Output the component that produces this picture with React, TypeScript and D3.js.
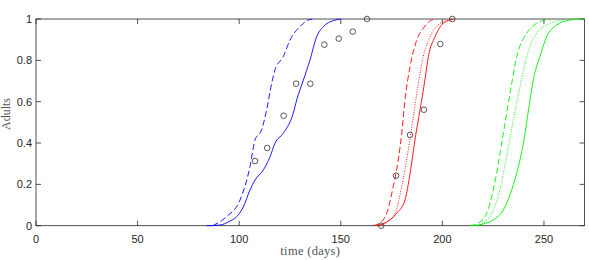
import React from "react";
import * as d3 from "d3";

const xTicks = [0, 50, 100, 150, 200, 250];
const yTicks = [0, 0.2, 0.4, 0.6, 0.8, 1];
const yTickLabels = ["0", "0.2", "0.4", "0.6", "0.8", "1"];

const obsDays = [107.8, 113.8, 121.9, 128, 135, 141.9, 149, 155.9, 162.9, 169.9, 177.2, 184.1, 190.9, 199, 204.9];
const obsAdults = [0.313, 0.376, 0.532, 0.687, 0.687, 0.876, 0.905, 0.939, 1.0, 0, 0.242, 0.439, 0.561, 0.879, 1.0];

const blueSolidX = [84, 90.5, 95, 98.8, 102, 105.3, 107.8, 111.9, 115.2, 117.6, 121.7, 126.6, 128.3, 131.6, 134.8, 138.1, 141.4, 146.3, 150];
const blueSolidY = [0, 0.003, 0.02, 0.044, 0.09, 0.173, 0.221, 0.27, 0.334, 0.399, 0.447, 0.544, 0.608, 0.705, 0.8, 0.914, 0.963, 0.992, 1];
const blueDashX = [87, 93.8, 100.4, 105.3, 107.8, 111, 113.5, 116, 117.6, 121.7, 125, 129.9, 133, 136];
const blueDashY = [0, 0.044, 0.124, 0.285, 0.415, 0.463, 0.56, 0.689, 0.753, 0.818, 0.898, 0.963, 0.99, 1];

const redSolidX = [167.6, 172, 177.5, 181.6, 184.1, 186.5, 189, 191.4, 193.1, 196.4, 200.4, 205.4];
const redSolidY = [0, 0.015, 0.06, 0.124, 0.253, 0.415, 0.56, 0.705, 0.818, 0.914, 0.979, 0.999];
const redDashX = [166, 169.5, 172.6, 175.8, 178.3, 180, 181.6, 184.1, 187.4, 190.6, 194.7, 197];
const redDashY = [0, 0.015, 0.06, 0.189, 0.318, 0.447, 0.608, 0.77, 0.898, 0.955, 0.995, 1];
const redDotX = [168, 172.5, 176.7, 180, 183.2, 185.7, 188.2, 190.6, 193.9, 198.8, 202.9];
const redDotY = [0, 0.015, 0.06, 0.189, 0.366, 0.527, 0.689, 0.818, 0.914, 0.979, 0.995];

const greenSolidX = [215.2, 220, 225, 230, 234.1, 237.4, 240.7, 243.1, 245.1, 248, 251.3, 256.3, 262.8, 269.4];
const greenSolidY = [0, 0.008, 0.028, 0.076, 0.173, 0.285, 0.447, 0.608, 0.721, 0.818, 0.914, 0.971, 0.995, 1];
const greenDashX = [213.6, 218, 221.8, 226.7, 230, 233.3, 236.6, 241.5, 246.4, 253];
const greenDashY = [0, 0.015, 0.06, 0.253, 0.447, 0.64, 0.818, 0.931, 0.979, 0.999];
const greenDotX = [216, 220, 223.4, 228.3, 231.6, 234.9, 238.2, 241.5, 246.4, 253, 259.5];
const greenDotY = [0, 0.012, 0.044, 0.173, 0.334, 0.511, 0.673, 0.818, 0.931, 0.979, 0.995];

const series = [
  { xs: blueDashX, ys: blueDashY, color: "#0000ff", dash: "6,3" },
  { xs: blueSolidX, ys: blueSolidY, color: "#0000ff", dash: "" },
  { xs: redDashX, ys: redDashY, color: "#ff0000", dash: "6,3" },
  { xs: redDotX, ys: redDotY, color: "#ff0000", dash: "1,1.5" },
  { xs: redSolidX, ys: redSolidY, color: "#ff0000", dash: "" },
  { xs: greenDashX, ys: greenDashY, color: "#00ee00", dash: "6,3" },
  { xs: greenDotX, ys: greenDotY, color: "#00ee00", dash: "1,1.5" },
  { xs: greenSolidX, ys: greenSolidY, color: "#00ee00", dash: "" },
];

const W = 589, H = 260;
const L = 36, R = 584.6, T = 19, B = 225.7;

export default function App() {
  const x = d3.scaleLinear().domain([0, 270]).range([L, R]);
  const y = d3.scaleLinear().domain([0, 1]).range([B, T]);
  const line = d3
    .line<[number, number]>()
    .x((d) => x(d[0]))
    .y((d) => y(d[1]))
    .curve(d3.curveMonotoneX);
  const axisColor = "#262626";
  const tl = 5;
  return (
    <svg width={W} height={H} style={{ position: "absolute", left: 0, top: 0, background: "#fff" }}>
      <rect x={L} y={T} width={R - L} height={B - T} fill="#fff" stroke={axisColor} strokeWidth={0.8} />
      {xTicks.map((t) => (
        <g key={"x" + t}>
          <line x1={x(t)} x2={x(t)} y1={B} y2={B - tl} stroke={axisColor} strokeWidth={0.8} />
          <line x1={x(t)} x2={x(t)} y1={T} y2={T + tl} stroke={axisColor} strokeWidth={0.8} />
          <text x={x(t)} y={B + 17} textAnchor="middle" fontFamily="Liberation Sans, Arial, sans-serif" fontSize={11} fill="#262626">
            {t}
          </text>
        </g>
      ))}
      {yTicks.map((t, i) => (
        <g key={"y" + t}>
          <line x1={L} x2={L + tl} y1={y(t)} y2={y(t)} stroke={axisColor} strokeWidth={0.8} />
          <line x1={R} x2={R - tl} y1={y(t)} y2={y(t)} stroke={axisColor} strokeWidth={0.8} />
          <text x={L - 4} y={y(t) + 4} textAnchor="end" fontFamily="Liberation Sans, Arial, sans-serif" fontSize={11} fill="#262626">
            {yTickLabels[i]}
          </text>
        </g>
      ))}
      {series.map((s, i) => (
        <path
          key={i}
          d={line(s.xs.map((v, j) => [v, s.ys[j]] as [number, number])) || ""}
          fill="none"
          stroke={s.color}
          strokeWidth={0.9}
          strokeDasharray={s.dash || undefined}
        />
      ))}
      {obsDays.map((d, i) => (
        <circle key={"o" + i} cx={x(d)} cy={y(obsAdults[i])} r={2.8} fill="none" stroke="#444" strokeWidth={0.9} />
      ))}
      <text x={(L + R) / 2} y={255} textAnchor="middle" fontFamily="Liberation Serif, serif" fontSize={12.5} fill="#555" letterSpacing={0.3}>
        time (days)
      </text>
      <text
        transform={`translate(10, 114) rotate(-90)`}
        textAnchor="middle"
        fontFamily="Liberation Serif, serif"
        fontSize={12}
        fill="#555"
      >
        Adults
      </text>
    </svg>
  );
}
